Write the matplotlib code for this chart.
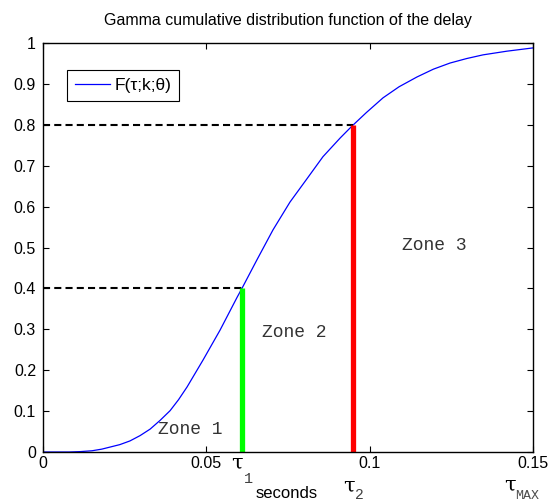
import numpy as np
import matplotlib
matplotlib.use("Agg")
import matplotlib.pyplot as plt

plt.rcParams['font.family'] = ['Liberation Sans', 'DejaVu Sans']

# curve values
tau = [0, 0.008, 0.0115, 0.015, 0.018, 0.0205, 0.0235, 0.0266, 0.0297, 0.0328,
       0.0358, 0.0389, 0.0415, 0.0441, 0.049, 0.0542, 0.0594, 0.0609, 0.0655,
       0.0704, 0.0756, 0.0808, 0.0857, 0.091, 0.0946, 0.099, 0.1041, 0.109,
       0.1145, 0.1195, 0.1246, 0.1297, 0.1347, 0.142, 0.15]
cdf = [0, 0.0, 0.001, 0.003, 0.007, 0.012, 0.018, 0.027, 0.04, 0.056,
       0.077, 0.101, 0.128, 0.159, 0.225, 0.298, 0.378, 0.40, 0.47,
       0.543, 0.611, 0.668, 0.722, 0.768, 0.797, 0.83, 0.866, 0.893,
       0.917, 0.936, 0.951, 0.962, 0.971, 0.98, 0.988]

# thresholds
tau_marks = [0.0609, 0.0949]
cdf_marks = [0.4, 0.8]
mark_colors = ['#00ff00', '#ff0000']

zone_labels = ['Zone 1', 'Zone 2', 'Zone 3']
zone_x = [0.0352, 0.067, 0.110]
zone_y = [0.054, 0.291, 0.504]

xticks = [0, 0.05, 0.1, 0.15]
xticklabels = ['0', '0.05', '0.1', '0.15']
yticks = np.round(np.arange(0, 1.01, 0.1), 1)

fig = plt.figure(figsize=(5.49, 5.03), dpi=100)
ax = fig.add_axes([43 / 549, 51 / 503, 490 / 549, 409 / 503])

ax.plot(tau, cdf, color='blue', lw=0.9, label='F(τ;k;θ)')
for t, c, col in zip(tau_marks, cdf_marks, mark_colors):
    ax.plot([0, t], [c, c], color='black', lw=1.5, dashes=(3.4, 2))
    ax.plot([t, t], [0, c], color=col, lw=3.8, solid_capstyle='butt')

for lab, zx, zy in zip(zone_labels, zone_x, zone_y):
    ax.text(zx, zy, lab, family='Liberation Mono', fontsize=13, color='0.2',
            ha='left', va='center')

ax.set_xlim(0, 0.15)
ax.set_ylim(0, 1)
ax.set_xticks(xticks)
ax.set_xticklabels(xticklabels)
ax.set_yticks(yticks)
ax.set_yticklabels([f'{v:g}' for v in yticks])
ax.tick_params(direction='in', length=4, width=0.8, top=True, right=True,
               labelsize=11.5)
ax.tick_params(axis='x', pad=3)
ax.tick_params(axis='y', pad=5)
for s in ax.spines.values():
    s.set_linewidth(1.0)

ax.set_title('Gamma cumulative distribution function of the delay',
             fontsize=11.5, pad=13)

leg = ax.legend(loc='upper left', bbox_to_anchor=(0.049, 0.934),
                borderaxespad=0, fancybox=False, framealpha=1,
                edgecolor='black', handlelength=2.05, fontsize=12.5,
                borderpad=0.45, handletextpad=0.25)
leg.get_frame().set_linewidth(0.8)

# tau labels under the axis
tr = ax.get_xaxis_transform()
ax.text(0.0612, -0.004, 'τ', transform=tr, fontsize=15,
        ha='right', va='top', family='DejaVu Serif')
ax.text(0.0614, -0.05, '1', transform=tr, fontsize=11,
        ha='left', va='top', family='Liberation Mono', color='0.25')
ax.text(0.0650, -0.082, 'seconds', transform=tr, fontsize=12, ha='left',
        va='top')
ax.text(0.0937, -0.060, 'τ', transform=tr, fontsize=15, ha='center',
        va='top', family='DejaVu Serif')
ax.text(0.0956, -0.089, '2', transform=tr, fontsize=10.5,
        ha='left', va='top', family='Liberation Mono', color='0.25')
ax.text(0.1428, -0.058, 'τ', transform=tr, fontsize=15, ha='center',
        va='top', family='DejaVu Serif')
ax.text(0.1445, -0.092, 'MAX', transform=tr, fontsize=9.5, ha='left',
        va='top', family='Liberation Mono', color='0.3')

fig.savefig('out.png', dpi=100)
